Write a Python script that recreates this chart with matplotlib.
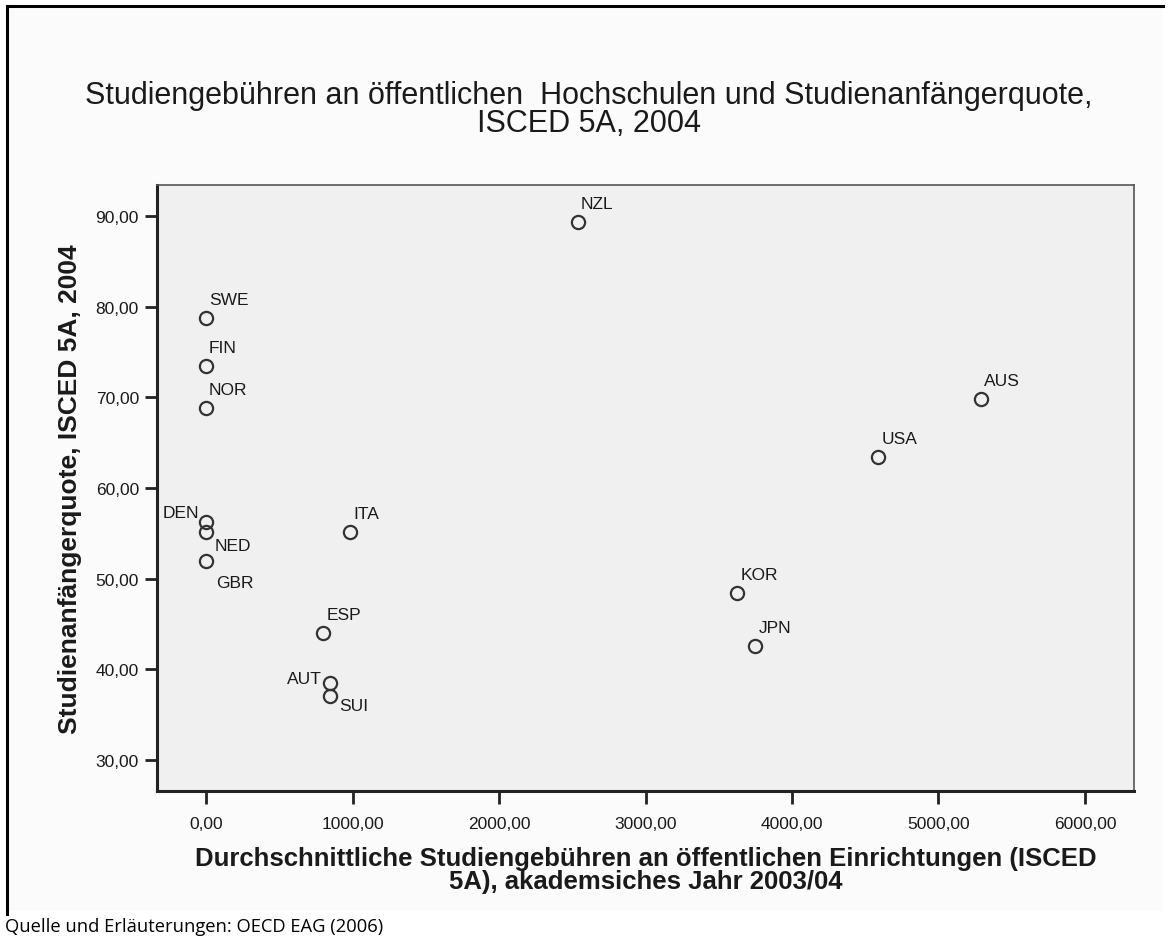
"""Studiengebühren vs. Studienanfängerquote (OECD EAG 2006) — scatter with country labels."""

import matplotlib

matplotlib.use("Agg")
import matplotlib.pyplot as plt
from matplotlib.lines import Line2D
from matplotlib.ticker import FuncFormatter

# data
countries = ["NZL", "SWE", "FIN", "NOR", "DEN", "NED", "GBR", "ITA",
             "ESP", "AUT", "SUI", "AUS", "USA", "KOR", "JPN"]
fees = [2540, 0, 0, 0, 0, 0, 0, 983, 801, 846, 846, 5288, 4589, 3627, 3750]
entry_rate = [89.3, 78.7, 73.4, 68.8, 56.2, 55.2, 52.0, 55.1,
              44.05, 38.5, 37.1, 69.8, 63.4, 48.4, 42.6]
x_ticks = [0, 1000, 2000, 3000, 4000, 5000, 6000]
y_ticks = [30, 40, 50, 60, 70, 80, 90]

# label placement per country: (dx px, dy px, ha, va)
label_pos = {
    "DEN": (-7, 2, "right", "bottom"),
    "NED": (9, -6, "left", "top"),
    "GBR": (10, -14, "left", "top"),
    "AUT": (-8, -3, "right", "bottom"),
    "SUI": (9, -2, "left", "top"),
}
default_pos = (3, 11, "left", "bottom")

W, H, DPI = 1169, 945, 100
TXT = "#1a1a1a"
plt.rcParams["font.family"] = ["Liberation Sans", "DejaVu Sans"]

fig = plt.figure(figsize=(W / DPI, H / DPI), dpi=DPI)
fig.patch.set_facecolor("white")

# outer frame (left + top edge) and the slightly off-white chart panel
fig.add_artist(plt.Rectangle((8 / W, 1 - 912 / H), 1155 / W, 905 / H,
                             transform=fig.transFigure, facecolor="#fbfbfb",
                             edgecolor="none", zorder=-2))
fig.add_artist(Line2D([7 / W, 7 / W], [1 - 7 / H, 1 - 915 / H],
                      transform=fig.transFigure, color="black", lw=2.2))
fig.add_artist(Line2D([7 / W, 1163 / W], [1 - 7 / H, 1 - 7 / H],
                      transform=fig.transFigure, color="black", lw=2.2))

ax = fig.add_axes([157 / W, 1 - 792 / H, (1134 - 157) / W, (792 - 186) / H])
ax.set_facecolor("#f0f0f0")

ax.plot(fees, entry_rate, linestyle="none", marker="o", markersize=9.5,
        markerfacecolor="none", markeredgecolor="#333333", markeredgewidth=1.6)

for name, x, y in zip(countries, fees, entry_rate):
    dx, dy, ha, va = label_pos.get(name, default_pos)
    ax.annotate(name, (x, y), xytext=(dx, dy), textcoords="offset pixels",
                ha=ha, va=va, fontsize=12.5, color=TXT)

ax.set_xlim(-335, 6335)
ax.set_ylim(26.6, 93.4)
ax.set_xticks(x_ticks)
ax.set_yticks(y_ticks)
fmt = FuncFormatter(lambda v, _: f"{v:.2f}".replace(".", ","))
ax.xaxis.set_major_formatter(fmt)
ax.yaxis.set_major_formatter(fmt)
ax.tick_params(direction="out", length=9, width=2, color="#222222",
               labelsize=12.5, labelcolor=TXT)
ax.tick_params(axis="x", pad=9)
ax.tick_params(axis="y", pad=4)

for side in ("left", "bottom"):
    ax.spines[side].set_linewidth(2.2)
    ax.spines[side].set_color("#222222")
for side in ("top", "right"):
    ax.spines[side].set_linewidth(1.2)
    ax.spines[side].set_color("#555555")

ax.set_xlabel("Durchschnittliche Studiengebühren an öffentlichen Einrichtungen (ISCED\n"
              "5A), akademsiches Jahr 2003/04",
              fontsize=18.5, fontweight="bold", color=TXT, linespacing=0.95, labelpad=11)
ax.set_ylabel("Studienanfängerquote, ISCED 5A, 2004",
              fontsize=19, fontweight="bold", color=TXT, labelpad=10)

fig.text(589 / W, 1 - 110 / H,
         "Studiengebühren an öffentlichen  Hochschulen und Studienanfängerquote,\n"
         "ISCED 5A, 2004",
         ha="center", va="center", fontsize=22, color=TXT, linespacing=0.95)

fig.text(5 / W, 1 - 927 / H, "Quelle und Erläuterungen: OECD EAG (2006)",
         ha="left", va="center", fontsize=13.2, color="black",
         family=["Open Sans", "DejaVu Sans"])

fig.savefig("out.png", dpi=DPI)
plt.close(fig)
